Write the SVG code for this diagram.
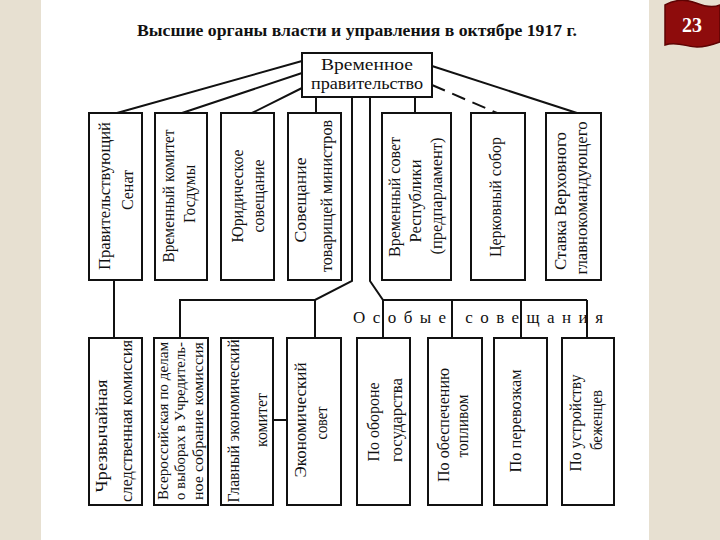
<svg xmlns="http://www.w3.org/2000/svg" width="720" height="540" viewBox="0 0 720 540">
<style>
.box{fill:#fff;stroke:#111;stroke-width:2}
.ln{fill:none;stroke:#111;stroke-width:2}
.dash{fill:none;stroke:#111;stroke-width:2;stroke-dasharray:14 8}
.t{font-family:"Liberation Serif","Times New Roman",serif;font-size:16px;fill:#111;text-anchor:middle;dominant-baseline:central}
.s{font-size:14px}
.h{font-family:"Liberation Serif","Times New Roman",serif;font-size:17px;fill:#111;text-anchor:middle}
</style>
<rect x="0" y="0" width="720" height="540" fill="#e7e0d1"/>
<rect x="41" y="0" width="608" height="540" fill="#fff"/>
<g id="badge">
<path d="M665,5 C676,-1 686,-1 696,3 C706,7 713,8 720,5 L720,42 C712,45 705,47 697,47 C687,47 677,41 665,45 Z" fill="#8e0c0c" stroke="#5e0303" stroke-width="1.5"/>
<text x="692" y="32" font-family="Liberation Serif,serif" font-size="20" font-weight="bold" fill="#fff" text-anchor="middle">23</text>
</g>
<text id="title" x="357" y="36" font-family="Liberation Serif,serif" font-size="17" font-weight="bold" fill="#111" text-anchor="middle" textLength="440" lengthAdjust="spacingAndGlyphs">Высшие органы власти и управления в октябре 1917 г.</text>
<g id="connectors">
<path class="ln" d="M302,61 L117,113 M302,73 L182,113 M302,88 L252,113"/>
<path class="ln" d="M432,66 L577,113"/>
<path class="dash" d="M432,85 L497,113"/>
<path class="ln" d="M316,97 V113 M415,97 V113"/>
<path class="ln" d="M352,97 V281 L315,300 H180 V338 M315,300 V338"/>
<path class="ln" d="M370,97 V281 L383,300 H587 M383,300 V338 M452,300 V338 M521,300 V338 M587,300 V338"/>
<path class="ln" d="M114,280 V338"/>
<path class="ln" d="M273,420 H287"/>
</g>
<g id="gov">
<rect class="box" x="302" y="53" width="130" height="44"/>
<text class="h" x="367" y="70" textLength="92" lengthAdjust="spacingAndGlyphs">Временное</text>
<text class="h" x="367" y="89" textLength="112" lengthAdjust="spacingAndGlyphs">правительство</text>
</g>
<g id="senat">
<rect class="box" x="89" y="113" width="53" height="167"/>
<text class="t" transform="translate(104,196) rotate(-90)" textLength="148" lengthAdjust="spacingAndGlyphs">Правительствующий</text>
<text class="t" transform="translate(127,190) rotate(-90)">Сенат</text>
</g>
<g id="komitet-gd">
<rect class="box" x="155" y="113" width="52" height="167"/>
<text class="t" transform="translate(168,196) rotate(-90)" textLength="133" lengthAdjust="spacingAndGlyphs">Временный комитет</text>
<text class="t" transform="translate(189,194) rotate(-90)" textLength="58" lengthAdjust="spacingAndGlyphs">Госдумы</text>
</g>
<g id="jurid">
<rect class="box" x="221" y="113" width="53" height="167"/>
<text class="t" transform="translate(237,196) rotate(-90)" textLength="93" lengthAdjust="spacingAndGlyphs">Юридическое</text>
<text class="t" transform="translate(258,196) rotate(-90)" textLength="73" lengthAdjust="spacingAndGlyphs">совещание</text>
</g>
<g id="tovarishchi">
<rect class="box" x="288" y="113" width="53" height="167"/>
<text class="t" transform="translate(300,200) rotate(-90)" textLength="85" lengthAdjust="spacingAndGlyphs">Совещание</text>
<text class="t" transform="translate(326,196) rotate(-90)" textLength="152" lengthAdjust="spacingAndGlyphs">товарищей министров</text>
</g>
<g id="predparlament">
<rect class="box" x="382" y="113" width="69" height="167"/>
<text class="t" transform="translate(394,197) rotate(-90)" textLength="120" lengthAdjust="spacingAndGlyphs">Временный совет</text>
<text class="t" transform="translate(415,201) rotate(-90)" textLength="83" lengthAdjust="spacingAndGlyphs">Республики</text>
<text class="t" transform="translate(436,196) rotate(-90)" textLength="117" lengthAdjust="spacingAndGlyphs">(предпарламент)</text>
</g>
<g id="sobor">
<rect class="box" x="471" y="113" width="54" height="167"/>
<text class="t" transform="translate(495,197) rotate(-90)" textLength="120" lengthAdjust="spacingAndGlyphs">Церковный собор</text>
</g>
<g id="stavka">
<rect class="box" x="546" y="113" width="55" height="167"/>
<text class="t" transform="translate(560,201) rotate(-90)" textLength="138" lengthAdjust="spacingAndGlyphs">Ставка Верховного</text>
<text class="t" transform="translate(581,198) rotate(-90)" textLength="153" lengthAdjust="spacingAndGlyphs">главнокомандующего</text>
</g>
<g id="chsk">
<rect class="box" x="89" y="338" width="53" height="167"/>
<text class="t" transform="translate(101,436) rotate(-90)" textLength="113" lengthAdjust="spacingAndGlyphs">Чрезвычайная</text>
<text class="t" transform="translate(126,421) rotate(-90)" textLength="162" lengthAdjust="spacingAndGlyphs">следственная комиссия</text>
</g>
<g id="vybory">
<rect class="box" x="154" y="338" width="54" height="167"/>
<text class="t s" transform="translate(163,421) rotate(-90)" textLength="158" lengthAdjust="spacingAndGlyphs">Всероссийская  по делам</text>
<text class="t s" transform="translate(180,421) rotate(-90)" textLength="158" lengthAdjust="spacingAndGlyphs">о выборах в Учредитель-</text>
<text class="t s" transform="translate(198,421) rotate(-90)" textLength="158" lengthAdjust="spacingAndGlyphs">ное  собрание  комиссия</text>
</g>
<g id="glavkom">
<rect class="box" x="221" y="338" width="52" height="167"/>
<text class="t" transform="translate(233,421) rotate(-90)" textLength="163" lengthAdjust="spacingAndGlyphs">Главный экономический</text>
<text class="t" transform="translate(261,420) rotate(-90)" textLength="54" lengthAdjust="spacingAndGlyphs">комитет</text>
</g>
<g id="ekonsovet">
<rect class="box" x="287" y="338" width="54" height="167"/>
<text class="t" transform="translate(300,420) rotate(-90)" textLength="115" lengthAdjust="spacingAndGlyphs">Экономический</text>
<text class="t" transform="translate(321,423) rotate(-90)" textLength="33" lengthAdjust="spacingAndGlyphs">совет</text>
</g>
<text id="osobye" x="353" y="323" font-family="Liberation Serif,serif" font-size="17" fill="#111" textLength="250" lengthAdjust="spacing">Особые совещания</text>
<g id="oborona">
<rect class="box" x="357" y="338" width="53" height="167"/>
<text class="t" transform="translate(373,422) rotate(-90)" textLength="79" lengthAdjust="spacingAndGlyphs">По обороне</text>
<text class="t" transform="translate(396,420) rotate(-90)" textLength="84" lengthAdjust="spacingAndGlyphs">государства</text>
</g>
<g id="toplivo">
<rect class="box" x="428" y="338" width="54" height="167"/>
<text class="t" transform="translate(443,425) rotate(-90)" textLength="114" lengthAdjust="spacingAndGlyphs">По обеспечению</text>
<text class="t" transform="translate(462,426) rotate(-90)" textLength="63" lengthAdjust="spacingAndGlyphs">топливом</text>
</g>
<g id="perevozki">
<rect class="box" x="494" y="338" width="53" height="167"/>
<text class="t" transform="translate(515,421) rotate(-90)" textLength="103" lengthAdjust="spacingAndGlyphs">По перевозкам</text>
</g>
<g id="bezhentsy">
<rect class="box" x="562" y="338" width="52" height="167"/>
<text class="t" transform="translate(575,423) rotate(-90)" textLength="97" lengthAdjust="spacingAndGlyphs">По устройству</text>
<text class="t" transform="translate(596,420) rotate(-90)" textLength="60" lengthAdjust="spacingAndGlyphs">беженцев</text>
</g>
</svg>
